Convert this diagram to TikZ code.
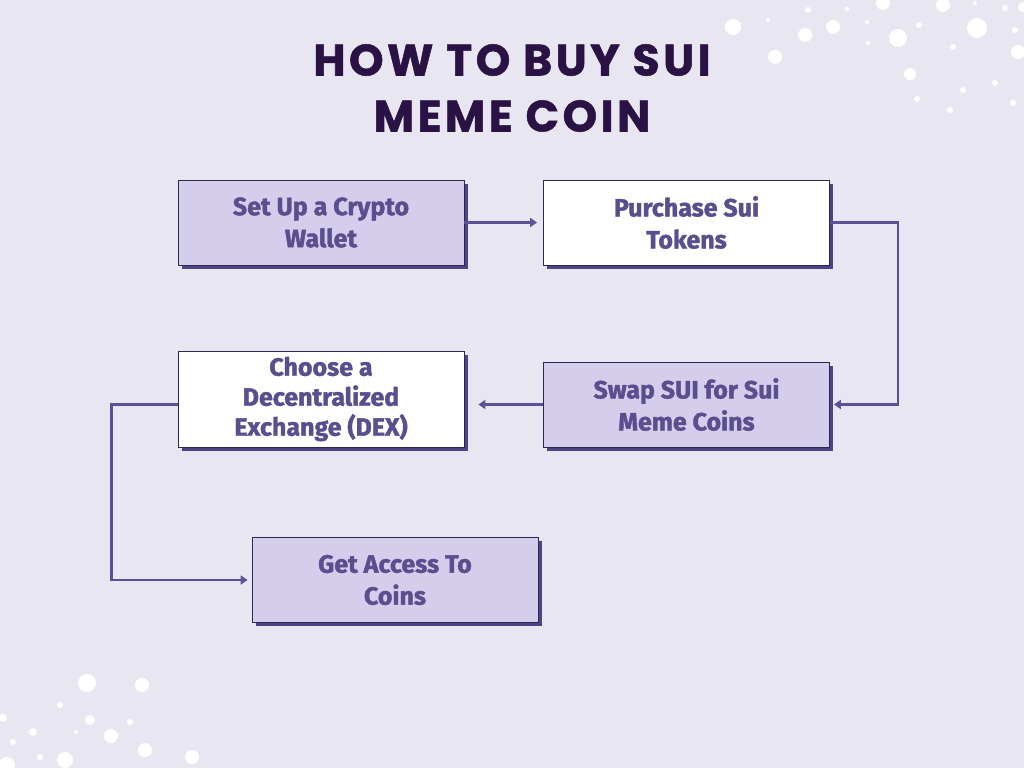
\documentclass[tikz,border=0pt]{standalone}
\usepackage{fontspec}
\usetikzlibrary{arrows.meta,shadows,calc}
\newfontfamily\titlefont[LetterSpace=8,BoldFeatures={FakeBold=1.2}]{Poppins}
\newfontfamily\boxfont[BoldFeatures={FakeBold=1.6}]{Fira Sans}
\definecolor{bgc}{HTML}{E8E6F0}
\definecolor{lav}{HTML}{D4CDEC}
\definecolor{boxtext}{HTML}{5A4E8F}
\definecolor{boxline}{HTML}{2E2850}
\definecolor{shad}{HTML}{4D4385}
\definecolor{conn}{HTML}{5C5099}
\definecolor{titlec}{HTML}{2A1245}
\tikzset{
  stepbox/.style={draw=boxline, line width=0.8pt, minimum width=286pt, minimum height=85pt,
    align=center, text=boxtext, font=\boxfont\bfseries\fontsize{25}{32}\selectfont,
    drop shadow={shadow xshift=3.5pt, shadow yshift=-3.5pt, fill=shad, opacity=1}},
  lavbox/.style={stepbox, fill=lav},
  whitebox/.style={stepbox, fill=white},
  conline/.style={draw=conn, line width=2.4pt, -{Triangle[length=7pt,width=9pt]}},
  dot/.style={fill=white, draw=none}
}
\begin{document}
\begin{tikzpicture}[x=1pt,y=-1pt]
\fill[bgc] (0,0) rectangle (1024,768);
\useasboundingbox (0,0) rectangle (1024,768);
% dots
\foreach \x/\y/\r in {733/27/8,768/20/2,775/57/7,805/35/7,808/10/3,833/27/7,847/9/2,867/22/2,868/43/2,883/3/7,898/38/9,910/74/6,917/99/3,919/25/3,943/5/7,953/47/3,950/110/3,963/90/3,975/3/2,977/28/10,995/83/3,1005/8/3,1013/103/3,1015/30/3,1018/52/7,1023/7/5,
  87/683/9,142/685/7,60/705/3,3/718/4,90/720/5,130/722/3,33/732/4,76/732/2,111/736/7,13/742/3,145/750/7,40/757/3,65/760/8,192/757/7,7/765/8}
  \fill[dot] (\x,\y) circle (\r);
% title
\node[text=titlec, font=\titlefont\bfseries\fontsize{44}{56}\selectfont, align=center] (title) at (512,88) {HOW TO BUY SUI\\MEME COIN};
% boxes
\node[lavbox] (b1) at (321,222.5) {Set Up a Crypto\\Wallet};
\node[whitebox] (b2) at (686.5,222.5) {Purchase Sui\\Tokens};
\node[whitebox, minimum height=96pt, font=\boxfont\bfseries\fontsize{25}{30}\selectfont] (b3) at (321,399) {Choose a\\Decentralized\\Exchange (DEX)};
\node[lavbox] (b4) at (686.5,404.5) {Swap SUI for Sui\\Meme Coins};
\node[lavbox] (b5) at (395,580) {Get Access To\\Coins};
% connectors
\draw[conline, shorten >=6pt] (b1.east) -- (b2.west);
\draw[conline, shorten >=4pt] (b2.east) -- ++(68,0) |- (b4.east);
\draw[conline, shorten >=14pt] (b4.west) -- (b3.east |- b4.west);
\draw[conline, shorten >=4pt] (b3.west |- b4.west) -- ++(-66,0) |- (b5.west);
\end{tikzpicture}
\end{document}
